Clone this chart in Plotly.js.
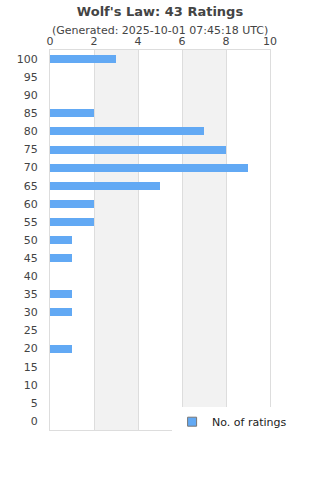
<!DOCTYPE html>
<html><head><meta charset="utf-8">
<script src="https://cdn.plot.ly/plotly-3.0.1.min.js"></script>
<style>html,body{margin:0;padding:0;background:#fff}#c{width:320px;height:480px}</style>
</head><body><div id="c"></div>
<script>
const scores = [100, 85, 80, 75, 70, 65, 60, 55, 50, 45, 35, 30, 20];
const counts = [3, 2, 7, 8, 9, 5, 2, 2, 1, 1, 1, 1, 1];
const tickVals = [0,5,10,15,20,25,30,35,40,45,50,55,60,65,70,75,80,85,90,95,100];
const bands = [[2,4],[6,8]];
const seriesName = 'No. of ratings';
const titleText = "Wolf's Law: 43 Ratings";
const subText = "(Generated: 2025-10-01 07:45:18 UTC)";

const shapes = bands.map(b => ({type:'rect', xref:'x', yref:'paper', x0:b[0], x1:b[1], y0:0, y1:1,
  fillcolor:'#f2f2f2', line:{width:0}, layer:'below'}));

Plotly.newPlot('c', [{
  type:'bar', orientation:'h', x:counts, y:scores, width:2.2,
  name:seriesName, marker:{color:'#62a9f4'}, showlegend:false,
  hoverinfo:'x+y'
},{
  type:'scatter', mode:'markers', x:[null], y:[null], name:seriesName,
  marker:{symbol:'square', size:9, color:'#62a9f4', line:{color:'#777', width:1}}
}], {
  width:320, height:480,
  margin:{l:50, r:50, t:50, b:50},
  paper_bgcolor:'#fff', plot_bgcolor:'#fff',
  font:{family:'DejaVu Sans, sans-serif', size:11, color:'#444'},
  title:{text:'<b>'+titleText+'</b>', x:0.5, xanchor:'center', yref:'container', y:1-11/480, yanchor:'middle', font:{size:13, color:'#444'}},
  annotations:[{text:subText, xref:'paper', yref:'paper', x:0.5, y:1, yshift:20, xanchor:'center', yanchor:'middle', showarrow:false, font:{size:11, color:'#444'}}],
  xaxis:{side:'top', range:[0,10], dtick:2, showgrid:true, gridcolor:'#ddd', showline:true, mirror:true, linecolor:'#ddd', zeroline:false, ticks:'', ticklabelstandoff:0, fixedrange:true},
  yaxis:{range:[-2.5,102.5], tickvals:tickVals, showgrid:false, showline:true, mirror:true, linecolor:'#ddd', zeroline:false, ticks:'', ticklabelstandoff:9, fixedrange:true},
  shapes:shapes,
  showlegend:true,
  legend:{x:0.555, xanchor:'left', y:0.06, yanchor:'top', bgcolor:'#fff', font:{size:11, color:'#222'}},
  bargap:0
}, {displayModeBar:false, staticPlot:true});
</script></body></html>
